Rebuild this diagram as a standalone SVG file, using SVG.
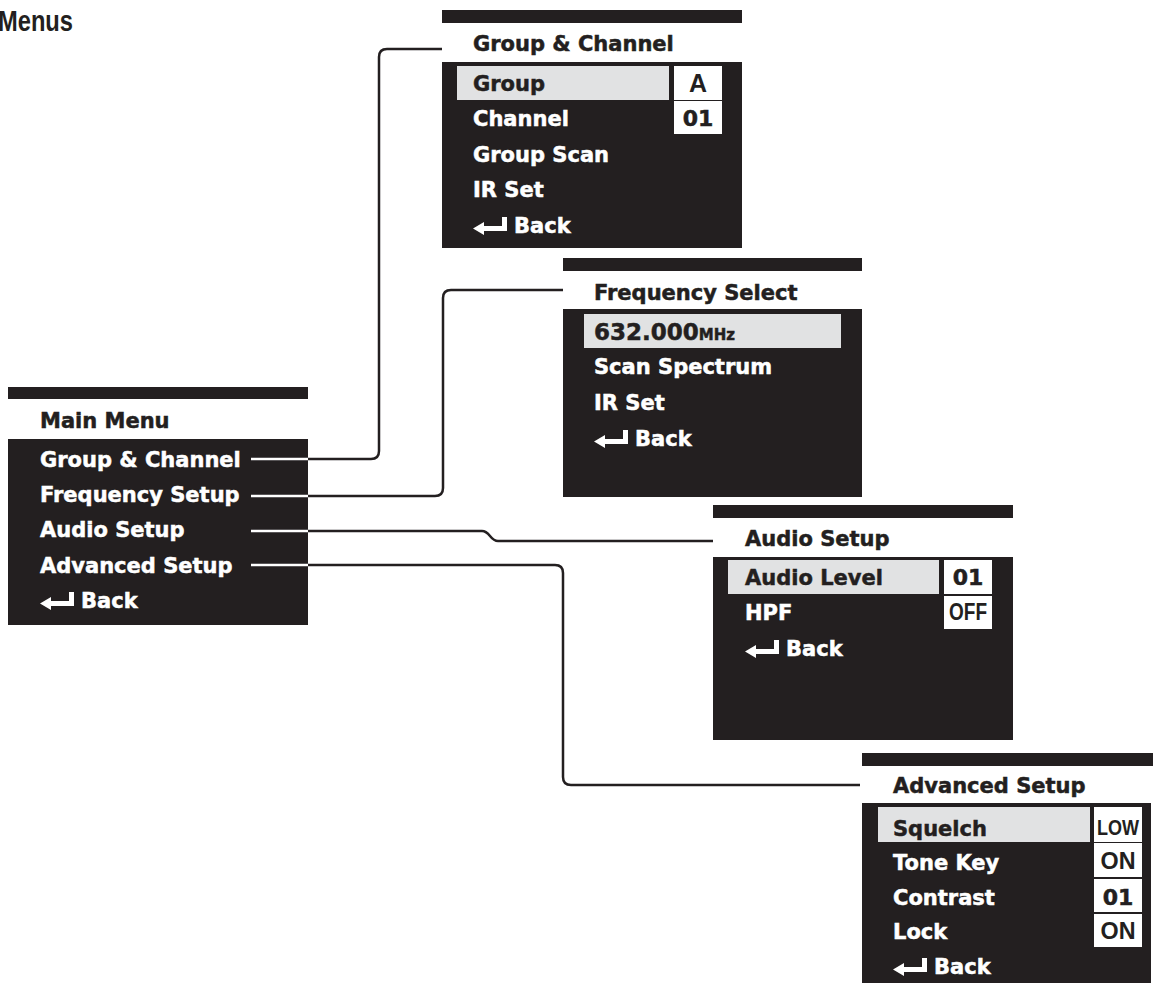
<svg xmlns="http://www.w3.org/2000/svg" width="1153" height="983" viewBox="0 0 1153 983">
<style>
.bk{fill:#231f20}
.hl{fill:#e1e2e3}
.box{fill:#ffffff}
.t{font-family:"DejaVu Sans",Verdana,sans-serif;font-weight:bold;font-size:21px;stroke-width:0.5px}
.dk{fill:#231f20;stroke:#231f20}
.wt{fill:#ffffff;stroke:#ffffff}
.v{font-family:"Liberation Sans",Arial,sans-serif;font-weight:bold;text-anchor:middle;fill:#231f20}
.vd{font-family:"DejaVu Sans",Verdana,sans-serif;font-weight:bold;text-anchor:middle;fill:#231f20;stroke:#231f20;stroke-width:0.5px;font-size:22px}
.conn{fill:none;stroke:#231f20;stroke-width:2.5}
.connw{fill:none;stroke:#ffffff;stroke-width:2.5}
</style>
<defs>
<path id="back" d="M0,-4.5 L11,-11 L11,-7 L29,-7 L29,-16 L34,-16 L34,-2 L11,-2 L11,2 Z" fill="#ffffff"/>
<clipPath id="mainclip"><rect x="8" y="439" width="300" height="186"/></clipPath>
</defs>

<text x="-2" y="31" font-family="Liberation Sans, Arial, sans-serif" font-weight="bold" font-size="29" textLength="75" lengthAdjust="spacingAndGlyphs" fill="#231f20">Menus</text>

<g id="main-menu">
<rect class="bk" x="8" y="387" width="300" height="12"/>
<text class="t dk" x="40" y="428">Main Menu</text>
<rect class="bk" x="8" y="439" width="300" height="186"/>
<text class="t wt" x="40" y="467">Group &amp; Channel</text>
<text class="t wt" x="40" y="502">Frequency Setup</text>
<text class="t wt" x="40" y="537">Audio Setup</text>
<text class="t wt" x="40" y="573">Advanced Setup</text>
<use href="#back" x="40" y="608"/>
<text class="t wt" x="81" y="608">Back</text>
</g>

<g id="group-channel">
<rect class="bk" x="442" y="10" width="300" height="13"/>
<text class="t dk" x="473" y="51">Group &amp; Channel</text>
<rect class="bk" x="442" y="62" width="300" height="186"/>
<rect class="hl" x="457" y="66" width="212" height="34"/>
<rect class="box" x="674" y="66" width="48" height="34"/>
<rect class="box" x="674" y="101" width="48" height="33"/>
<text class="t dk" x="473" y="91">Group</text>
<text class="v" x="698" y="92" font-size="25">A</text>
<text class="t wt" x="473" y="126">Channel</text>
<text class="vd" x="698" y="126">01</text>
<text class="t wt" x="473" y="162">Group Scan</text>
<text class="t wt" x="473" y="197">IR Set</text>
<use href="#back" x="473" y="233"/>
<text class="t wt" x="514" y="233">Back</text>
</g>

<g id="frequency-select">
<rect class="bk" x="563" y="258" width="299" height="13"/>
<text class="t dk" x="594" y="300">Frequency Select</text>
<rect class="bk" x="563" y="309" width="299" height="188"/>
<rect class="hl" x="584" y="314" width="257" height="34"/>
<text class="t dk" x="594" y="340"><tspan font-size="23">632.000</tspan><tspan font-size="15">MHz</tspan></text>
<text class="t wt" x="594" y="374">Scan Spectrum</text>
<text class="t wt" x="594" y="410">IR Set</text>
<use href="#back" x="594" y="446"/>
<text class="t wt" x="635" y="446">Back</text>
</g>

<g id="audio-setup">
<rect class="bk" x="713" y="505" width="300" height="13"/>
<text class="t dk" x="745" y="546">Audio Setup</text>
<rect class="bk" x="713" y="557" width="300" height="183"/>
<rect class="hl" x="728" y="560" width="211" height="34"/>
<rect class="box" x="944" y="560" width="48" height="34"/>
<rect class="box" x="944" y="596" width="48" height="33"/>
<text class="t dk" x="745" y="585">Audio Level</text>
<text class="vd" x="968" y="585">01</text>
<text class="t wt" x="745" y="620">HPF</text>
<text class="v" x="968" y="620" font-size="23" textLength="38" lengthAdjust="spacingAndGlyphs">OFF</text>
<use href="#back" x="745" y="656"/>
<text class="t wt" x="786" y="656">Back</text>
</g>

<g id="advanced-setup">
<rect class="bk" x="862" y="753" width="291" height="13"/>
<text class="t dk" x="893" y="793">Advanced Setup</text>
<rect class="bk" x="862" y="803" width="289" height="180"/>
<rect class="hl" x="878" y="807" width="212" height="35"/>
<rect class="box" x="1094" y="807" width="48" height="35"/>
<rect class="box" x="1094" y="843" width="48" height="34"/>
<rect class="box" x="1094" y="879" width="48" height="33"/>
<rect class="box" x="1094" y="914" width="48" height="33"/>
<text class="t dk" x="893" y="836">Squelch</text>
<text class="v" x="1118" y="835" font-size="22" textLength="42" lengthAdjust="spacingAndGlyphs">LOW</text>
<text class="t wt" x="893" y="870">Tone Key</text>
<text class="v" x="1118" y="869" font-size="23" textLength="35" lengthAdjust="spacingAndGlyphs">ON</text>
<text class="t wt" x="893" y="905">Contrast</text>
<text class="vd" x="1118" y="905">01</text>
<text class="t wt" x="893" y="939">Lock</text>
<text class="v" x="1118" y="939" font-size="23" textLength="35" lengthAdjust="spacingAndGlyphs">ON</text>
<use href="#back" x="893" y="974"/>
<text class="t wt" x="934" y="974">Back</text>
</g>

<g id="connectors">
<path id="c1" class="conn" d="M251,459 H371 Q379,459 379,451 V57 Q379,49 387,49 H442"/>
<path id="c2" class="conn" d="M251,496 H435 Q443,496 443,488 V298 Q443,290 451,290 H563"/>
<path id="c3" class="conn" d="M251,531 H482 C490,531 490,541 498,541 H713"/>
<path id="c4" class="conn" d="M251,565 H555 Q563,565 563,573 V777 Q563,785 571,785 H860"/>
<g clip-path="url(#mainclip)">
<path class="connw" d="M251,459 H371"/>
<path class="connw" d="M251,496 H435"/>
<path class="connw" d="M251,531 H482"/>
<path class="connw" d="M251,565 H555"/>
</g>
</g>
</svg>
